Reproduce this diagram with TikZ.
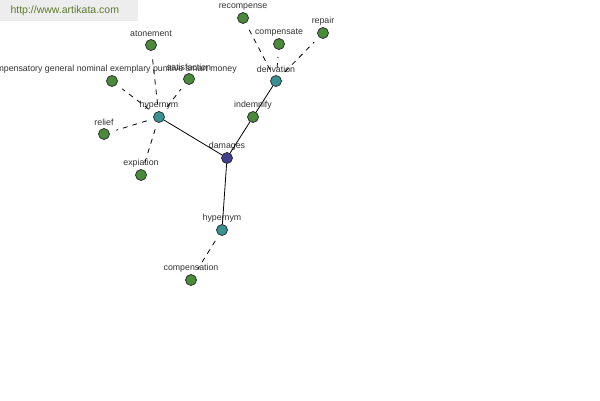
\documentclass[tikz,border=0pt]{standalone}
\usepackage{fontspec}
\setmainfont{Liberation Sans}
\usepackage{xcolor}
\usetikzlibrary{positioning}
\definecolor{rootcol}{HTML}{40408F}
\definecolor{relcol}{HTML}{3A9191}
\definecolor{leafcol}{HTML}{4A8A3B}
\definecolor{markcol}{HTML}{5E7A2E}
\tikzset{
  wnode/.style={circle, draw=black!85, line width=0.7pt, minimum size=11pt, inner sep=0pt,
                label={[wlabel]above:#1}},
  wroot/.style={wnode=#1, fill=rootcol},
  wrel/.style={wnode=#1, fill=relcol},
  wleaf/.style={wnode=#1, fill=leafcol},
  wlabel/.style={font=\fontsize{8.8}{9}\selectfont, text=black!80, inner sep=0pt, label distance=2pt},
  solidedge/.style={draw=black, line width=0.8pt},
  dashedge/.style={draw=black, line width=0.8pt, dash pattern=on 5pt off 5pt, shorten <=7pt, shorten >=7pt}
}
\begin{document}
\begin{tikzpicture}[x=1pt, y=-1pt]
\clip (0,0) rectangle (600,400);
\fill[white] (0,0) rectangle (600,400);
% watermark
\fill[black!7] (0,0) rectangle (138,21);
\node[font=\fontsize{10.5}{12}\selectfont, text=markcol, anchor=west] (mark) at (7,11) {http://www.artikata.com};
% centre and relations
\node[wroot=damages] (damages) at (227,158) {};
\node[wrel=hypernym] (hyp) at (159,117) {};
\node[wrel=derivation] (deriv) at (276,81) {};
\node[wleaf=indemnify] (indemnify) at (253,117) {};
\node[wrel=hypernym] (hypb) at (222,230) {};
% leaves
\node[wleaf=atonement] (atonement) at (151,45) {};
\node[wleaf=compensatory general nominal exemplary punitive smart money] (money) at (112,81) {};
\node[wleaf=satisfaction] (satisfaction) at (189,79) {};
\node[wleaf=relief] (relief) at (104,134) {};
\node[wleaf=expiation] (expiation) at (141,175) {};
\node[wleaf=recompense] (recompense) at (243,18) {};
\node[wleaf=compensate] (compensate) at (279,44) {};
\node[wleaf=repair] (repair) at (323,33) {};
\node[wleaf=compensation] (compensation) at (191,280) {};
% connectors
\draw[solidedge] (damages) -- (hyp);
\draw[solidedge] (damages) -- (indemnify);
\draw[solidedge] (indemnify) -- (deriv);
\draw[solidedge] (damages) -- (hypb);
\foreach \leaf in {atonement, money, satisfaction, relief, expiation}
  \draw[dashedge] (hyp) -- (\leaf);
\foreach \leaf in {recompense, compensate, repair}
  \draw[dashedge] (deriv) -- (\leaf);
\draw[dashedge] (hypb) -- (compensation);
\end{tikzpicture}
\end{document}
